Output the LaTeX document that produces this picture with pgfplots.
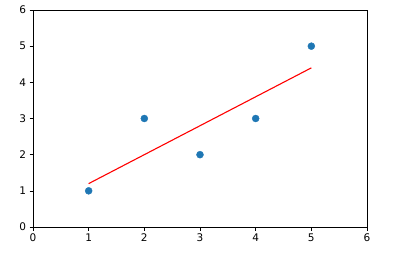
\documentclass[border=0pt]{standalone}
\usepackage{fontspec}
\setmainfont{DejaVu Sans}
\usepackage{pgfplots}
\pgfplotsset{compat=1.18}
\definecolor{mplblue}{HTML}{1F77B4}
\begin{document}
\begin{tikzpicture}[x=1pt,y=1pt]
\useasboundingbox (-33pt,-43pt) rectangle (379pt,227pt);
\begin{axis}[
  at={(0,0)}, anchor=south west,
  scale only axis, width=334pt, height=217pt,
  xmin=0, xmax=6, ymin=0, ymax=6,
  xtick={0,...,6}, ytick={0,...,6},
  tick align=outside, tick pos=left,
  major tick length=3.5pt,
  every tick/.style={black, line width=0.6pt},
  axis line style={line width=0.6pt},
  tick label style={font=\fontsize{10.5}{12}\selectfont},
  /pgf/number format/assume math mode=true,
  clip=false,
]
\addplot[red, line width=1.1pt] coordinates {(1,1.2) (5,4.4)};
\addplot[only marks, mark=*, mark size=3.5pt, mplblue, mark options={draw=mplblue, fill=mplblue}] coordinates {(1,1) (2,3) (3,2) (4,3) (5,5)};
\end{axis}
\end{tikzpicture}
\end{document}
